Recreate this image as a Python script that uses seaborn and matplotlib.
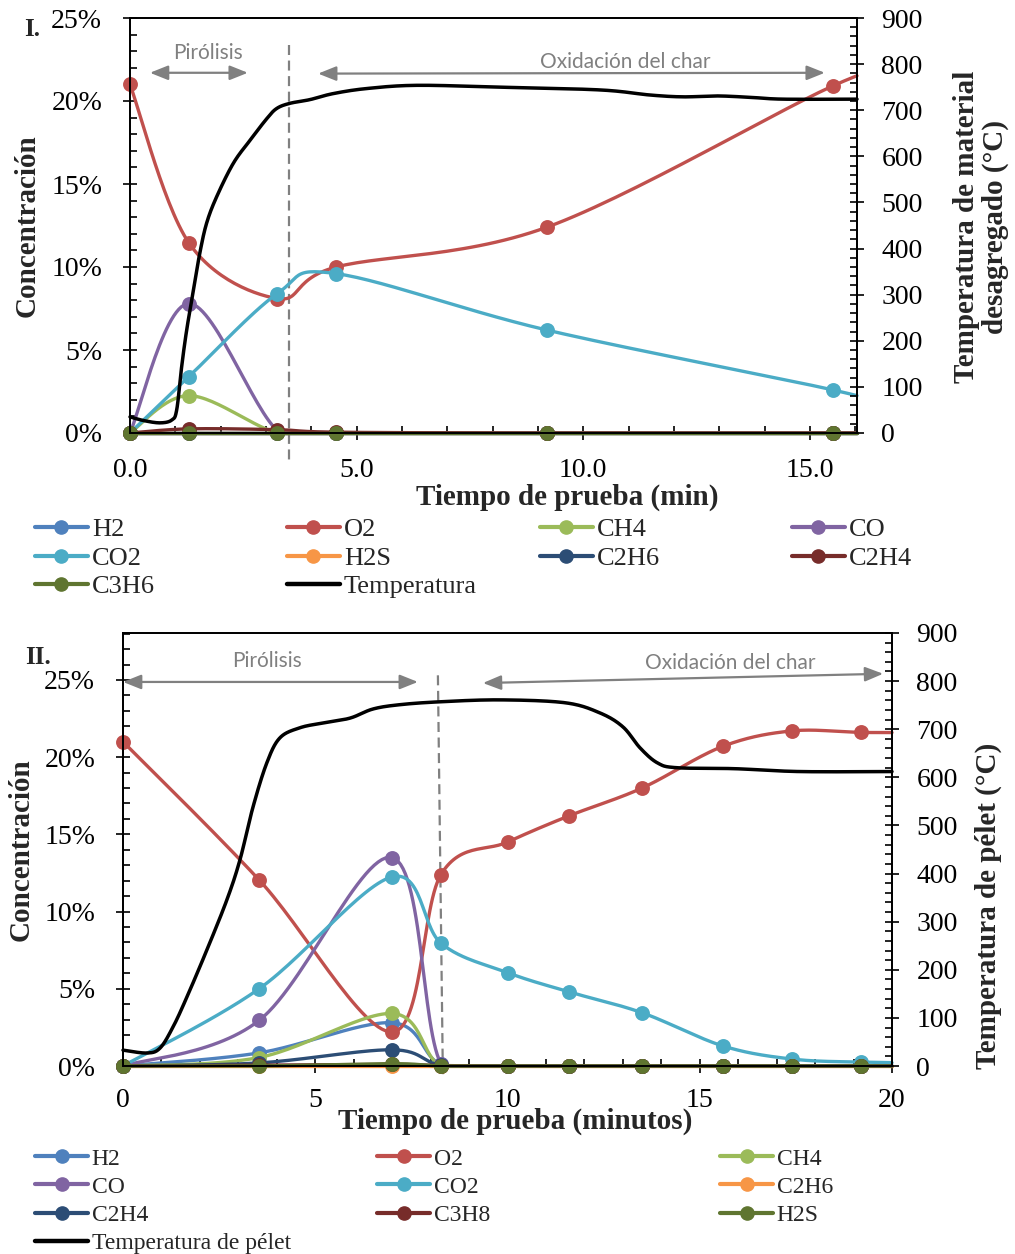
import numpy as np
import matplotlib
matplotlib.use("Agg")
import matplotlib.pyplot as plt
from matplotlib.lines import Line2D
from matplotlib.ticker import MultipleLocator, FuncFormatter
import seaborn as sns

# ---------------- data: test I (material desagregado) ----------------
t1 = [0.0, 1.3, 3.25, 4.55, 9.2, 15.5, 17.0]
h2_1 = [0, 0, 0, 0, 0, 0, 0]
o2_1 = [21.0, 11.45, 8.1, 10.0, 12.4, 20.9, 22.0]
ch4_1 = [0, 2.25, 0, 0, 0, 0, 0]
co_1 = [0, 7.8, 0.15, 0, 0, 0, 0]
co2_1 = [0, 3.4, 8.4, 9.6, 6.2, 2.6, 1.4]
h2s_1 = [0, 0, 0, 0, 0, 0, 0]
c2h6_1 = [0, 0, 0, 0, 0, 0, 0]
c2h4_1 = [0, 0.25, 0.2, 0.05, 0, 0, 0]
c3h6_1 = [0, 0, 0, 0, 0, 0, 0]
temp_t1 = [0, 0.3, 0.66, 0.92, 1.03, 1.14, 1.25, 1.4, 1.54, 1.69, 1.91, 2.28,
           2.65, 3.02, 3.24, 3.53, 3.97, 4.48, 5.22, 6.33, 8.16, 10.37, 11.47,
           12.2, 12.94, 13.68, 14.41, 16.04]
temp_v1 = [35, 27, 22, 28, 50, 144, 223, 310, 390, 455, 512, 585,
           635, 682, 704, 715, 723, 736, 747, 754, 750, 744, 733,
           729, 731, 728, 724, 724]

# ---------------- data: test II (pélet) ----------------
t2 = [0.0, 3.54, 7.0, 8.27, 10.0, 11.6, 13.5, 15.6, 17.4, 19.2, 21.0]
h2_2 = [0, 0.85, 2.8, 0.1, 0, 0, 0, 0, 0, 0, 0]
o2_2 = [21.0, 12.05, 2.2, 12.4, 14.5, 16.2, 18.0, 20.7, 21.7, 21.6, 21.6]
ch4_2 = [0, 0.55, 3.4, 0, 0, 0, 0, 0, 0, 0, 0]
co_2 = [0, 2.95, 13.5, 0.15, 0, 0, 0, 0, 0, 0, 0]
co2_2 = [0, 5.0, 12.25, 7.95, 6.05, 4.8, 3.45, 1.3, 0.45, 0.25, 0.2]
c2h6_2 = [0, 0, 0, 0, 0, 0, 0, 0, 0, 0, 0]
c2h4_2 = [0, 0.2, 1.05, 0.05, 0, 0, 0, 0, 0, 0, 0]
c3h8_2 = [0, 0.05, 0.1, 0.03, 0, 0, 0, 0, 0, 0, 0]
h2s_2 = [0, 0, 0.15, 0, 0, 0, 0, 0, 0, 0, 0]
temp_t2 = [0, 0.62, 0.96, 1.3, 1.66, 2.18, 2.7, 3.04, 3.38, 3.74, 4.08, 4.6,
           5.2, 5.9, 6.5, 7.2, 8.24, 9.8, 11.5, 12.4, 13.0, 13.45, 13.9, 14.4,
           15.9, 17.6, 20.0]
temp_v2 = [33, 27, 37, 81, 143, 241, 345, 428, 538, 630, 682, 703,
           713, 723, 742, 751, 757, 761, 755, 734, 705, 661, 630, 620,
           618, 612, 612]

C_BLUE, C_RED, C_GREEN, C_PURPLE = "#4F81BD", "#C0504D", "#9BBB59", "#8064A2"
C_AQUA, C_ORANGE, C_NAVY, C_MAROON, C_OLIVE = "#4BACC6", "#F79646", "#2C4D75", "#772C2A", "#5F7530"
GRAY = "#808080"

sns.set_theme(style="ticks", rc={
    "axes.edgecolor": "black", "axes.linewidth": 1.2,
    "xtick.color": "black", "ytick.color": "black",
    "axes.facecolor": "white", "figure.facecolor": "white",
})
plt.rcParams["font.family"] = ["Liberation Serif", "DejaVu Serif"]
plt.rcParams["mathtext.default"] = "regular"

W, H = 1015, 1254
fig = plt.figure(figsize=(W / 100, H / 100), dpi=100)


def fx(px):
    return px / W


def fy(py):
    return 1 - py / H


def smooth(x, y, n=30):
    """Bezier smoothing through the points (chart-style smoothed line)."""
    x = np.asarray(x, float)
    y = np.asarray(y, float)
    P = np.column_stack([x, y])
    P = np.vstack([P[0], P, P[-1]])
    t = np.linspace(0, 1, n)[:, None]
    out = []
    for i in range(1, len(P) - 2):
        p0, p1, p2, p3 = P[i - 1], P[i], P[i + 1], P[i + 2]
        c1 = p1 + (p2 - p0) / 6
        c2 = p2 - (p3 - p1) / 6
        seg = ((1 - t) ** 3) * p1 + 3 * ((1 - t) ** 2) * t * c1 + 3 * (1 - t) * t ** 2 * c2 + t ** 3 * p2
        out.append(seg if i == 1 else seg[1:])
    S = np.vstack(out)
    return S[:, 0], S[:, 1]


def draw_series(ax, x, y, color, xmax, z, markers=True, lw=2.4):
    sx, sy = smooth(x, y)
    if sx[-1] > xmax:
        ye = np.interp(xmax, sx, sy)
        keep = sx < xmax
        sx = np.append(sx[keep], xmax)
        sy = np.append(sy[keep], ye)
    sy = np.maximum(sy, 0)
    sns.lineplot(x=sx, y=sy, ax=ax, color=color, lw=lw, sort=False,
                 estimator=None, clip_on=False, zorder=z)
    if markers:
        xa = np.asarray(x, float)
        ya = np.asarray(y, float)
        m = xa <= xmax
        sns.scatterplot(x=xa[m], y=ya[m], ax=ax, color=color, s=115,
                        linewidth=0, clip_on=False, zorder=z + 0.001)


def style_axes(ax, ax2, xmax, ytop, xmaj, xfmt, ypad, xpad):
    ax.set_xlim(0, xmax)
    ax.set_ylim(0, ytop)
    ax2.set_ylim(0, 900)
    ax.xaxis.set_major_locator(MultipleLocator(xmaj))
    ax.xaxis.set_minor_locator(MultipleLocator(1))
    ax.yaxis.set_major_locator(MultipleLocator(5))
    ax.yaxis.set_minor_locator(MultipleLocator(1))
    ax2.yaxis.set_major_locator(MultipleLocator(100))
    ax2.yaxis.set_minor_locator(MultipleLocator(20))
    ax.xaxis.set_major_formatter(FuncFormatter(xfmt))
    ax.yaxis.set_major_formatter(FuncFormatter(lambda v, p: f"{v:.0f}%"))
    for a in (ax, ax2):
        a.tick_params(which="major", direction="inout", length=10, width=1.2,
                      labelsize=20)
        a.tick_params(which="minor", direction="in", length=5, width=1.2)
        a.set_xlabel("")
        a.set_ylabel("")
        for s in a.spines.values():
            s.set_visible(True)
            s.set_color("black")
            s.set_linewidth(1.3)
    ax.tick_params(axis="y", which="major", pad=ypad)
    ax2.tick_params(axis="y", which="major", pad=12.5)
    ax.tick_params(axis="x", which="major", pad=xpad)


def arrow(ax, x0, y0, x1, y1):
    ax.annotate("", xy=(x1, y1), xytext=(x0, y0), xycoords="data",
                annotation_clip=False,
                arrowprops=dict(arrowstyle="<|-|>,head_length=0.55,head_width=0.22",
                                color=GRAY, lw=1.6, mutation_scale=20,
                                shrinkA=0, shrinkB=0))


# ================= Panel I =================
ax1 = fig.add_axes([fx(130), fy(433), 727 / W, 415 / H])
ax1b = ax1.twinx()
XMAX1 = 16.04
series1 = [("H2", h2_1, C_BLUE), ("O2", o2_1, C_RED), ("CH4", ch4_1, C_GREEN),
           ("CO", co_1, C_PURPLE), ("CO2", co2_1, C_AQUA), ("H2S", h2s_1, C_ORANGE),
           ("C2H6", c2h6_1, C_NAVY), ("C2H4", c2h4_1, C_MAROON), ("C3H6", c3h6_1, C_OLIVE)]
for i, (name, vals, col) in enumerate(series1):
    draw_series(ax1, t1, vals, col, XMAX1, z=2 + i * 0.01)
draw_series(ax1b, temp_t1, temp_v1, "black", XMAX1, z=3, markers=False, lw=2.5)
style_axes(ax1, ax1b, XMAX1, 25, 5, lambda v, p: f"{v:.1f}", 15, 13)

ax1.plot([3.51, 3.51], [23.4, -1.93], color=GRAY, lw=1.6, ls=(0, (4.5, 2.5)),
         clip_on=False, zorder=1.5)
arrow(ax1, 0.44, 21.7, 2.6, 21.7)
arrow(ax1, 4.15, 21.65, 15.33, 21.7)

# ================= Panel II =================
ax3 = fig.add_axes([fx(123), fy(1066), 769 / W, 433 / H])
ax3b = ax3.twinx()
XMAX2 = 20
series2 = [("H2", h2_2, C_BLUE), ("O2", o2_2, C_RED), ("CH4", ch4_2, C_GREEN),
           ("CO", co_2, C_PURPLE), ("CO2", co2_2, C_AQUA), ("C2H6", c2h6_2, C_ORANGE),
           ("C2H4", c2h4_2, C_NAVY), ("C3H8", c3h8_2, C_MAROON), ("H2S", h2s_2, C_OLIVE)]
for i, (name, vals, col) in enumerate(series2):
    draw_series(ax3, t2, vals, col, XMAX2, z=2 + i * 0.01)
draw_series(ax3b, temp_t2, temp_v2, "black", XMAX2, z=3, markers=False, lw=2.5)
style_axes(ax3, ax3b, XMAX2, 28.04, 5, lambda v, p: f"{v:.0f}", 15, 11)

ax3.plot([8.19, 8.32], [25.3, -0.78], color=GRAY, lw=1.6, ls=(0, (4.5, 2.5)),
         clip_on=False, zorder=1.5)
arrow(ax3, 0.0, 24.87, 7.67, 24.87)
arrow(ax3, 9.36, 24.8, 19.77, 25.4)

# ================= texts =================
ann = dict(color=GRAY, family=["Lato", "DejaVu Sans"], fontsize=15, ha="center", va="center")
fig.text(fx(208), fy(53), "Pirólisis", **ann)
fig.text(fx(625), fy(62), "Oxidación del char", **ann)
fig.text(fx(267), fy(661), "Pirólisis", **ann)
fig.text(fx(730), fy(663), "Oxidación del char", **ann)

bold = dict(fontweight="bold", fontsize=21, ha="center", va="center")
fig.text(fx(32), fy(30), "I.", fontweight="bold", fontsize=18, ha="center", va="center")
fig.text(fx(38), fy(658), "II.", fontweight="bold", fontsize=18, ha="center", va="center")
fig.text(fx(567), fy(497), "Tiempo de prueba (min)", **bold)
fig.text(fx(515), fy(1121), "Tiempo de prueba (minutos)", **bold)
fig.text(fx(27), fy(226), "Concentración", rotation=90, **bold)
fig.text(fx(21), fy(850), "Concentración", rotation=90, **bold)
fig.text(fx(981), fy(227), "Temperatura de material\ndesagregado (°C)", rotation=90,
         multialignment="center", linespacing=1.05, **bold)
fig.text(fx(988), fy(906), "Temperatura de pélet (°C)", rotation=90, **bold)


# ================= legends =================
def handle(color, marker=True):
    if marker:
        return Line2D([], [], color=color, lw=3, marker="o", ms=9.5)
    return Line2D([], [], color=color, lw=3.2)


def column_legend(entries, xpx, ypx, fs, hl, spacing):
    hs = [handle(c, m) for _, c, m in entries]
    ls = [n for n, _, _ in entries]
    leg = fig.legend(hs, ls, loc="upper left", bbox_to_anchor=(fx(xpx), fy(ypx)),
                     bbox_transform=fig.transFigure, frameon=False, borderpad=0,
                     borderaxespad=0, handlelength=hl, handletextpad=0.15,
                     labelspacing=spacing, fontsize=fs)
    return leg


cols1 = [
    [("H2", C_BLUE, True), ("CO2", C_AQUA, True), ("C3H6", C_OLIVE, True)],
    [("O2", C_RED, True), ("H2S", C_ORANGE, True), ("Temperatura", "black", False)],
    [("CH4", C_GREEN, True), ("C2H6", C_NAVY, True)],
    [("CO", C_PURPLE, True), ("C2H4", C_MAROON, True)],
]
for xpx, entries in zip([35, 287, 540, 792], cols1):
    column_legend(entries, xpx, 518, 19, 2.0, 0.19)

cols2 = [
    [("H2", C_BLUE, True), ("CO", C_PURPLE, True), ("C2H4", C_NAVY, True),
     ("Temperatura de pélet", "black", False)],
    [("O2", C_RED, True), ("CO2", C_AQUA, True), ("C3H8", C_MAROON, True)],
    [("CH4", C_GREEN, True), ("C2H6", C_ORANGE, True), ("H2S", C_OLIVE, True)],
]
for xpx, entries in zip([35, 377, 720], cols2):
    column_legend(entries, xpx, 1148, 17, 2.25, 0.28)

fig.savefig("out.png", dpi=100)
